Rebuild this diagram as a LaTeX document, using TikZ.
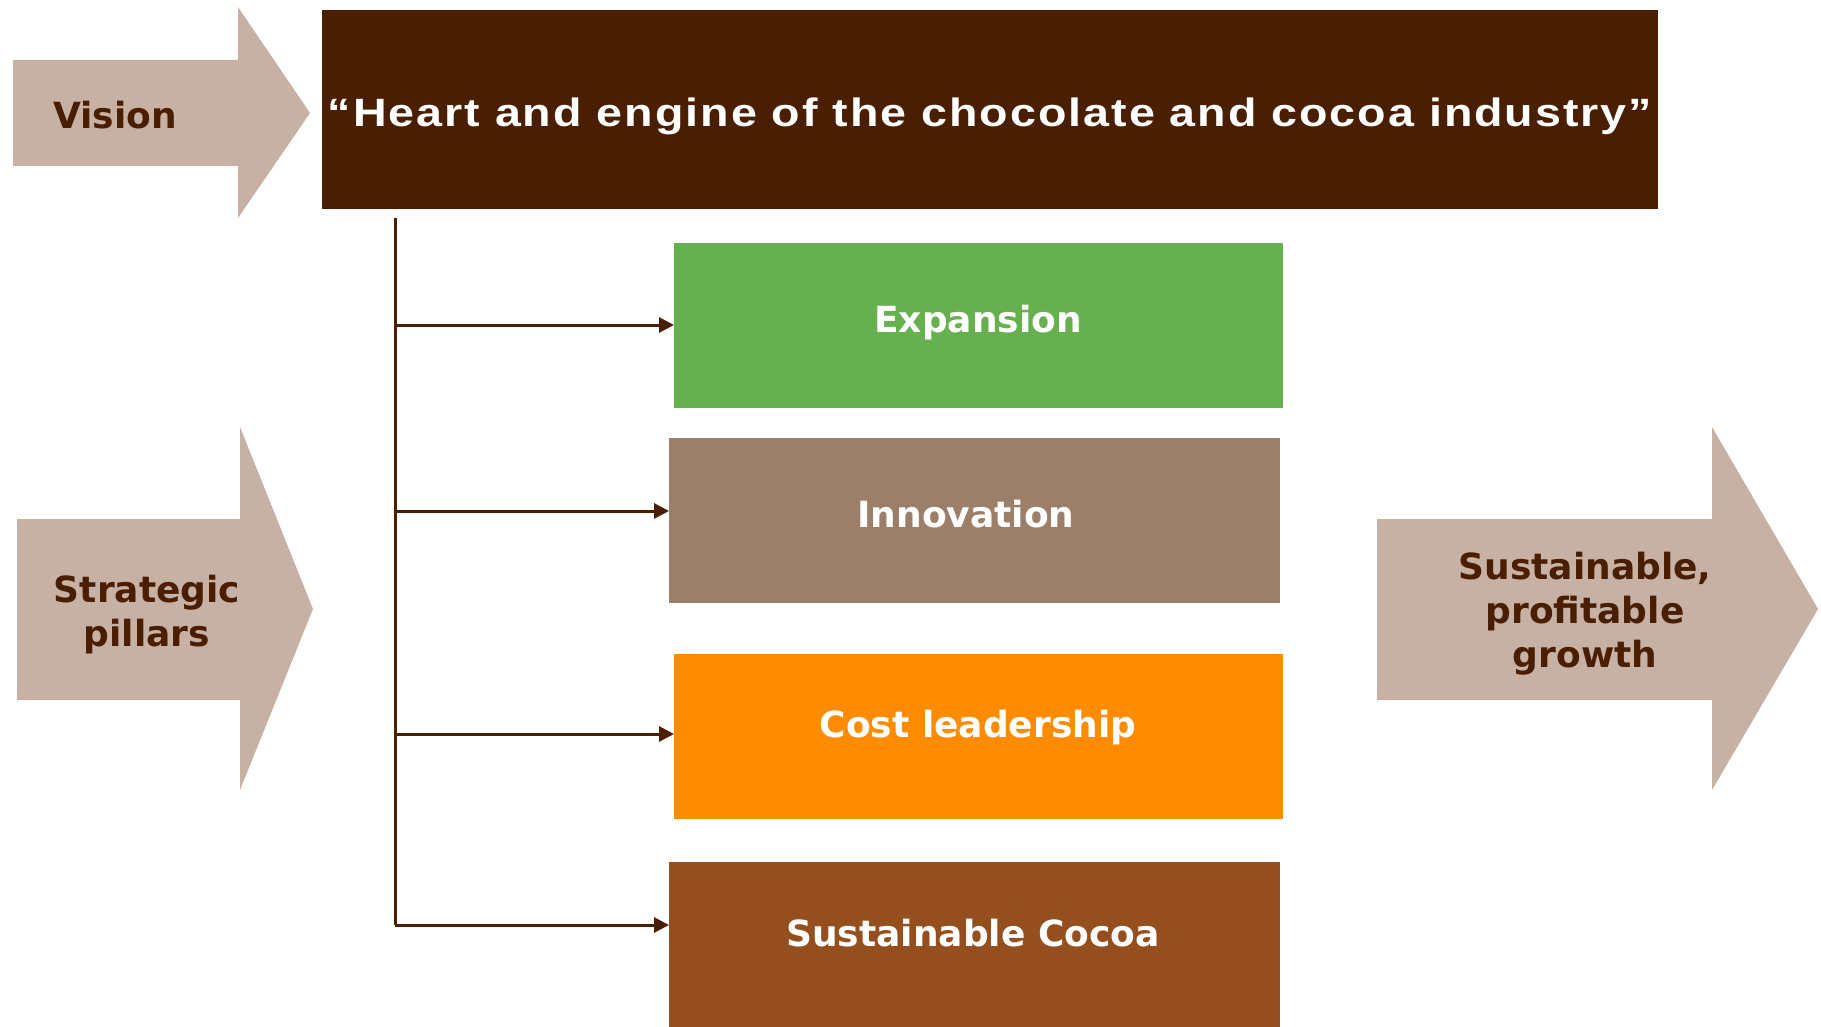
\documentclass[tikz,border=0pt]{standalone}
\usepackage{fontspec}
\setmainfont{DejaVu Sans}
\newfontfamily\quotefont[FakeStretch=1.18,LetterSpace=5]{Liberation Sans}
\usetikzlibrary{arrows.meta}
\definecolor{darkbrn}{HTML}{4A1E00}
\definecolor{arrowfill}{HTML}{C7B1A4}
\definecolor{expgreen}{HTML}{66B050}
\definecolor{innbrown}{HTML}{9B7F69}
\definecolor{costorange}{HTML}{FF8C00}
\definecolor{cocoabrn}{HTML}{954F1E}
\tikzset{
  bigarrow/.style={fill=arrowfill, draw=none},
  arrowlabel/.style={text=darkbrn, font=\fontsize{36}{44}\selectfont\bfseries, align=center, inner sep=0pt},
  pillarbox/.style={draw=none, inner sep=0pt, anchor=north west},
  boxlabel/.style={text=white, font=\fontsize{36}{44}\selectfont\bfseries, inner sep=0pt},
  conn/.style={draw=darkbrn, line width=3pt, -{Triangle[length=15pt,width=15pt]}},
  trunk/.style={draw=darkbrn, line width=3pt}
}
\begin{document}
\begin{tikzpicture}[x=1pt,y=-1pt]
\useasboundingbox (0,0) rectangle (1821,1027);
% big arrows
\fill[bigarrow] (13,60) -- (238,60) -- (238,7) -- (310,113) -- (238,218) -- (238,166) -- (13,166) -- cycle;
\node[arrowlabel] (vision) at (115,115) {Vision};
\fill[bigarrow] (17,519) -- (240,519) -- (240,427) -- (313,609) -- (240,790) -- (240,700) -- (17,700) -- cycle;
\node[arrowlabel] (pillars) at (147,615) {Strategic\\pillars};
\fill[bigarrow] (1377,519) -- (1712,519) -- (1712,427) -- (1818,609) -- (1712,790) -- (1712,700) -- (1377,700) -- cycle;
\node[arrowlabel] (growth) at (1585,614) {Sustainable,\\profitable\\growth};
% top box
\node[pillarbox, fill=darkbrn, minimum width=1336pt, minimum height=199pt] (top) at (322,10) {};
\node[text=white, font=\quotefont\fontsize{39.5}{44}\selectfont\bfseries, inner sep=0pt] (quote) at (990,116) {“Heart and engine of the chocolate and cocoa industry”};
% pillar boxes
\node[pillarbox, fill=expgreen, minimum width=609pt, minimum height=165pt] (exp) at (674,243) {};
\node[boxlabel] (expl) at (978,323) {Expansion};
\node[pillarbox, fill=innbrown, minimum width=611pt, minimum height=165pt] (inn) at (669,438) {};
\node[boxlabel] (innl) at (966,514) {Innovation};
\node[pillarbox, fill=costorange, minimum width=609pt, minimum height=165pt] (cost) at (674,654) {};
\node[boxlabel] (costl) at (978,728) {Cost leadership};
\node[pillarbox, fill=cocoabrn, minimum width=611pt, minimum height=165pt] (cocoa) at (669,862) {};
\node[boxlabel] (cocoal) at (973,933) {Sustainable Cocoa};
% connectors
\coordinate (ttop) at (395,218);
\coordinate (tbot) at (395,925);
\coordinate (b1) at (395,325);
\coordinate (b2) at (395,511);
\coordinate (b3) at (395,734);
\draw[trunk] (ttop) -- (tbot);
\draw[conn] (b1) -- (b1 -| exp.west);
\draw[conn] (b2) -- (b2 -| inn.west);
\draw[conn] (b3) -- (b3 -| cost.west);
\draw[conn] (tbot) -- (tbot -| cocoa.west);
\end{tikzpicture}
\end{document}
